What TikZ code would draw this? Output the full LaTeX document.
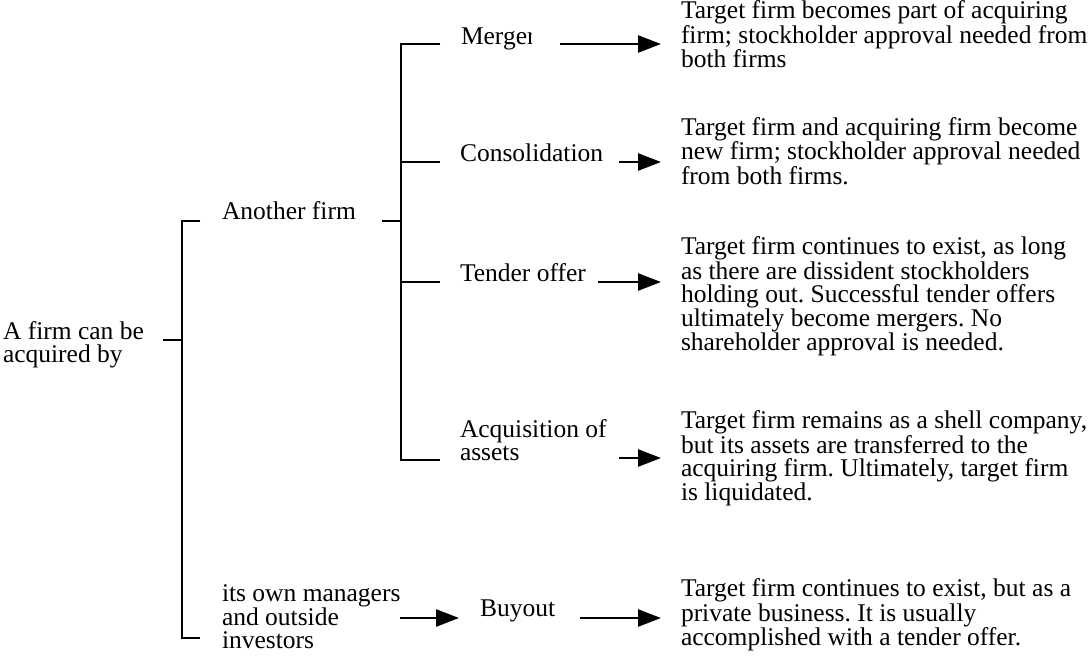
\documentclass[tikz,border=0pt]{standalone}
\usepackage{fontspec}
\setmainfont{Liberation Serif}
\usetikzlibrary{arrows.meta}
\frenchspacing
\begin{document}
\begin{tikzpicture}[x=1pt,y=-1pt,
  txt/.style={anchor=base west,inner sep=0pt,outer sep=0pt,align=left,
    font=\fontsize{25.5}{23}\selectfont\frenchspacing},
  brk/.style={line width=2.6pt,line join=miter},
  arr/.style={line width=2.6pt,-{Triangle[length=23pt,width=17pt]}}]
\useasboundingbox (0,0) rectangle (1090,656);
% text nodes (base = baseline of the last line)
\node[txt] (acq) at (3,362.5) {A firm can be\\acquired by};
\node[txt] (another) at (222,219.5) {Another firm};
\begin{scope}
\clip (450,15) rectangle (531.5,60);
\node[txt] (merger) at (461,44) {Merger};
\end{scope}
\node[txt] (consol) at (460,161.5) {Consolidation};
\node[txt] (tender) at (460,281) {Tender offer};
\node[txt] (assets) at (460,460.5) {Acquisition of\\assets};
\node[txt] (own) at (222,648.5) {its own managers\\and outside\\investors};
\node[txt] (buyout) at (480,616) {Buyout};
\node[txt] (dM) at (681,67.5) {Target firm becomes part of acquiring\\firm; stockholder approval needed from\\both firms};
\node[txt] (dC) at (681,184) {Target firm and acquiring firm become\\new firm; stockholder approval needed\\from both firms.};
\node[txt] (dT) at (681,350.5) {Target firm continues to exist, as long\\as there are dissident stockholders\\holding out. Successful tender offers\\ultimately become mergers. No\\shareholder approval is needed.};
\node[txt] (dA) at (681,500.5) {Target firm remains as a shell company,\\but its assets are transferred to the\\acquiring firm. Ultimately, target firm\\is liquidated.};
\node[txt] (dB) at (681,645.5) {Target firm continues to exist, but as a\\private business. It is usually\\accomplished with a tender offer.};
% bracket coordinates
\coordinate (s0) at (163,340);
\coordinate (s1) at (182,340);
\coordinate (t1) at (200,221);
\coordinate (c1) at (182,221);
\coordinate (c2) at (182,638);
\coordinate (t2) at (200,638);
\coordinate (s2) at (382,221);
\coordinate (s3) at (401,221);
\coordinate (k1) at (401,44);
\coordinate (k2) at (401,162);
\coordinate (k3) at (401,282);
\coordinate (k4) at (401,460);
\coordinate (a1) at (440,44);
\coordinate (a2) at (440,162);
\coordinate (a3) at (440,282);
\coordinate (a4) at (440,460);
% brackets
\draw[brk] (s0) -- (s1);
\draw[brk] (t1) -- (c1) -- (c2) -- (t2);
\draw[brk] (s2) -- (s3);
\draw[brk] (a1) -- (k1) -- (k4) -- (a4);
\draw[brk] (k2) -- (a2);
\draw[brk] (k3) -- (a3);
% arrows
\coordinate (mA) at (560,44);   \coordinate (mB) at (661,44);
\coordinate (cA) at (619,162);  \coordinate (cB) at (661,162);
\coordinate (tA) at (598,282);  \coordinate (tB) at (661,282);
\coordinate (aA) at (619,458);  \coordinate (aB) at (661,458);
\coordinate (bA) at (400,618);  \coordinate (bB) at (459,618);
\coordinate (bC) at (580,618);  \coordinate (bD) at (661,618);
\draw[arr] (mA) -- (mB);
\draw[arr] (cA) -- (cB);
\draw[arr] (tA) -- (tB);
\draw[arr] (aA) -- (aB);
\draw[arr] (bA) -- (bB);
\draw[arr] (bC) -- (bD);
\end{tikzpicture}
\end{document}
